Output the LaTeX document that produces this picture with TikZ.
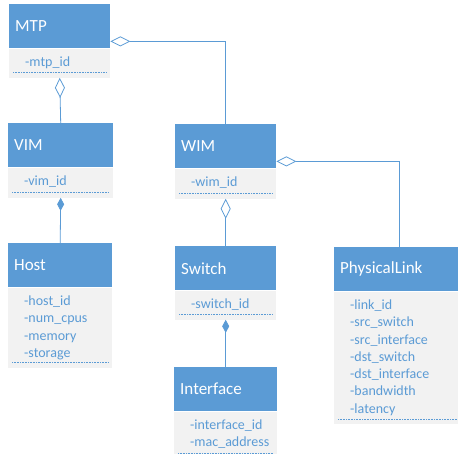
\documentclass[tikz,border=0pt]{standalone}
\usepackage{fontspec}
\setmainfont{Carlito}
\usetikzlibrary{positioning,arrows.meta}

\definecolor{umlblue}{HTML}{5B9BD5}
\definecolor{umlgray}{HTML}{F2F2F2}

\tikzset{
  head/.style={rectangle, anchor=north west, fill=umlblue, text=white,
    minimum height=44pt, inner xsep=6pt, inner ysep=0pt, align=left,
    font=\fontsize{17}{20}\selectfont},
  body/.style={rectangle, fill=umlgray, inner sep=0pt},
  attr/.style={anchor=base west, inner sep=0pt, text=umlblue, align=left,
    font=\fontsize{14}{17.3}\selectfont},
  dots/.style={umlblue, line width=0.6pt, dash pattern=on 0.8pt off 0.8pt},
  link/.style={umlblue, line width=0.8pt},
  agg/.style={link, {Diamond[open, length=20pt, width=10pt]}-},
  comp/.style={link, {Diamond[length=13pt, width=7pt]}-}
}

\begin{document}
\begin{tikzpicture}[x=1pt, y=-1pt]
		\useasboundingbox (0,0) rectangle (458,454);
		
		% Headers of the classes
		\node[head, text width=89pt]  (MTP)       at (9,4)     {MTP};
		\node[head, text width=93pt]  (VIM)       at (8,123)   {VIM};
		\node[head, text width=92pt]  (Host)      at (8,243)   {Host};
		\node[head, text width=89pt]  (WIM)       at (175,124) {WIM};
		\node[head, text width=89pt]  (Switch)    at (175,246) {Switch};
		\node[head, text width=91pt]  (Interface) at (174,367) {Interface};
		\node[head, text width=118pt] (PL)        at (334,247) {PhysicalLink};
		
		% Gray bodies below the headers
		\node[body, minimum width=101pt, minimum height=29pt, below=0pt of MTP]       (MTPbody) {};
		\node[body, minimum width=105pt, minimum height=30pt, below=0pt of VIM]       (VIMbody) {};
		\node[body, minimum width=104pt, minimum height=80pt, below=0pt of Host]      (Hostbody) {};
		\node[body, minimum width=101pt, minimum height=30pt, below=0pt of WIM]       (WIMbody) {};
		\node[body, minimum width=101pt, minimum height=29pt, below=0pt of Switch]    (Switchbody) {};
		\node[body, minimum width=103pt, minimum height=46pt, below=0pt of Interface] (Interfacebody) {};
		\node[body, minimum width=130pt, minimum height=132pt, below=0pt of PL]       (PLbody) {};
		
		% Attributes (anchored at the baseline of the last line)
		\node[attr] (MTPattr) at ([shift={(16,18)}]MTPbody.north west) {-mtp\_id};
		\node[attr] (VIMattr) at ([shift={(16,18)}]VIMbody.north west) {-vim\_id};
		\node[attr] (Hostattr) at ([shift={(16,69.9)}]Hostbody.north west)
		{-host\_id\\-num\_cpus\\-memory\\-storage};
		\node[attr] (WIMattr) at ([shift={(16,18)}]WIMbody.north west) {-wim\_id};
		\node[attr] (Switchattr) at ([shift={(16,18)}]Switchbody.north west) {-switch\_id};
		\node[attr] (Interfaceattr) at ([shift={(16,35.3)}]Interfacebody.north west)
		{-interface\_id\\-mac\_address};
		\node[attr] (PLattr) at ([shift={(16,121.8)}]PLbody.north west)
		{-link\_id\\-src\_switch\\-src\_interface\\-dst\_switch\\-dst\_interface\\-bandwidth\\-latency};
		
		% Dotted lines at the bottom of the bodies
		\foreach \b in {MTPbody, VIMbody, Hostbody, WIMbody, Switchbody, Interfacebody, PLbody}
		\draw[dots] ([shift={(4,-5)}]\b.south west) -- ([shift={(-4,-5)}]\b.south east);
		
		% Aggregations and compositions
		\draw[agg]  (MTPbody.south) -- (VIM.north);
		\draw[agg]  ([yshift=7pt]MTP.south east) -| (WIM.north);
		\draw[comp] (VIMbody.south) -- (Host.north);
		\draw[agg]  (WIMbody.south) -- (Switch.north);
		\draw[agg]  ([yshift=7pt]WIM.south east) -| (PL.north);
		\draw[comp] (Switchbody.south) -- (Interface.north);
		
\end{tikzpicture}
\end{document}
